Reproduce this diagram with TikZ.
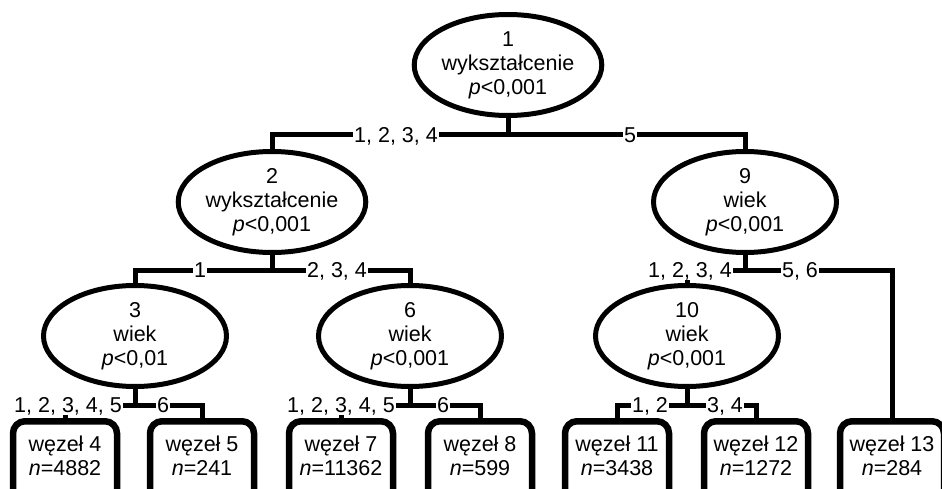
\documentclass[tikz,border=0pt]{standalone}
\usepackage{fontspec}
\setmainfont{Liberation Sans}
\usetikzlibrary{shapes.geometric}
\newcommand\treefont{\fontsize{21.5}{24}\selectfont}
\begin{document}
\begin{tikzpicture}[x=1pt,y=-1pt,
  split/.style={ellipse, draw, line width=5pt, fill=white, minimum width=183pt, minimum height=101pt, inner sep=0pt, align=center, font=\treefont},
  leafbox/.style={rectangle, draw, line width=6.5pt, rounded corners=12pt, minimum width=104pt, minimum height=110pt, anchor=north, inner sep=0pt},
  leaftxt/.style={align=center, font=\treefont, inner sep=0pt},
  conn/.style={line width=5pt},
  lab/.style={fill=white, font=\treefont, inner xsep=1.5pt, inner ysep=2pt, text height=15.5pt, text depth=0pt}]
\useasboundingbox (0,0) rectangle (942,489);
\clip (0,0) rectangle (942,489);

% split nodes
\node[split] (n1) at (508,65) {1\\wykształcenie\\\textit{p}<0,001};
\node[split] (n2) at (272,202) {2\\wykształcenie\\\textit{p}<0,001};
\node[split] (n9) at (745,202) {9\\wiek\\\textit{p}<0,001};
\node[split] (n3) at (135,336) {3\\wiek\\\textit{p}<0,01};
\node[split] (n6) at (410,336) {6\\wiek\\\textit{p}<0,001};
\node[split] (n10) at (687,336) {10\\wiek\\\textit{p}<0,001};

% leaves
\node[leafbox] (b4) at (65,418) {};
\node[leafbox] (b5) at (202,418) {};
\node[leafbox] (b7) at (341,418) {};
\node[leafbox] (b8) at (480,418) {};
\node[leafbox] (b11) at (617,418) {};
\node[leafbox] (b12) at (756,418) {};
\node[leafbox] (b13) at (892,418) {};
\node[leaftxt] (t4) at (65,456) {węzeł 4\\\textit{n}=4882};
\node[leaftxt] (t5) at (202,456) {węzeł 5\\\textit{n}=241};
\node[leaftxt] (t7) at (341,456) {węzeł 7\\\textit{n}=11362};
\node[leaftxt] (t8) at (480,456) {węzeł 8\\\textit{n}=599};
\node[leaftxt] (t11) at (617,456) {węzeł 11\\\textit{n}=3438};
\node[leaftxt] (t12) at (756,456) {węzeł 12\\\textit{n}=1272};
\node[leaftxt] (t13) at (892,456) {węzeł 13\\\textit{n}=284};

% junctions
\coordinate (j1) at (508,135);
\coordinate (j2) at (272,270);
\coordinate (j9) at (745,270);
\coordinate (j3) at (135,405);
\coordinate (j6) at (410,405);
\coordinate (j10) at (687,405);

% connectors
\draw[conn] (n1.south) -- (j1);
\draw[conn] (j1) -| (n2.north);
\draw[conn] (j1) -| (n9.north);
\draw[conn] (n2.south) -- (j2);
\draw[conn] (j2) -| (n3.north);
\draw[conn] (j2) -| (n6.north);
\draw[conn] (n9.south) -- (j9);
\draw[conn] (j9) -| (n10.north);
\draw[conn] (j9) -| (b13.north);
\draw[conn] (n3.south) -- (j3);
\draw[conn] (j3) -| (b4.north);
\draw[conn] (j3) -| (b5.north);
\draw[conn] (n6.south) -- (j6);
\draw[conn] (j6) -| (b7.north);
\draw[conn] (j6) -| (b8.north);
\draw[conn] (n10.south) -- (j10);
\draw[conn] (j10) -| (b11.north);
\draw[conn] (j10) -| (b12.north);

% labels
\node[lab] (l1a) at (396,135) {1, 2, 3, 4};
\node[lab] (l1b) at (630,135) {5};
\node[lab] (l2a) at (200,270) {1};
\node[lab] (l2b) at (337,270) {2, 3, 4};
\node[lab] (l9a) at (690,270) {1, 2, 3, 4};
\node[lab] (l9b) at (800,270) {5, 6};
\node[lab] (l3a) at (68,405) {1, 2, 3, 4, 5};
\node[lab] (l3b) at (163,405) {6};
\node[lab] (l6a) at (341,405) {1, 2, 3, 4, 5};
\node[lab] (l6b) at (443,405) {6};
\node[lab] (l10a) at (650,405) {1, 2};
\node[lab] (l10b) at (725,405) {3, 4};
\end{tikzpicture}
\end{document}
